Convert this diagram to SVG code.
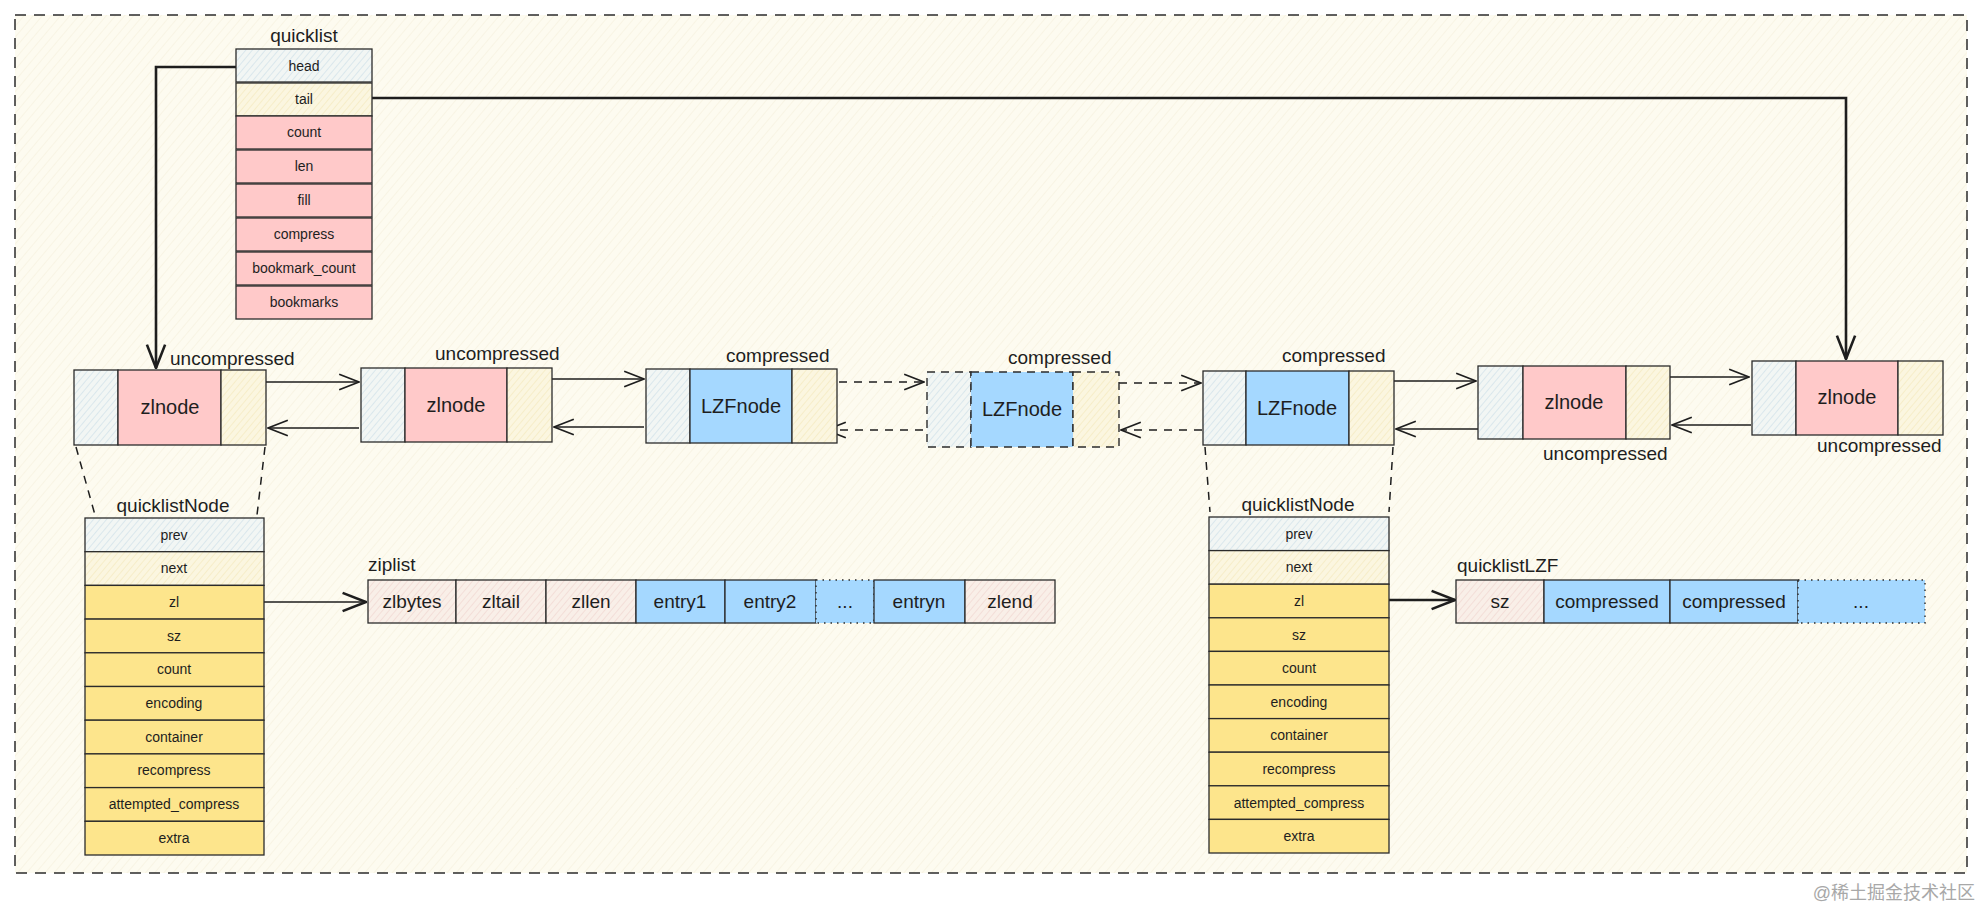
<svg xmlns="http://www.w3.org/2000/svg" width="1982" height="912" viewBox="0 0 1982 912">
<defs>
  <pattern id="hBg" width="7" height="7" patternUnits="userSpaceOnUse" patternTransform="rotate(40)">
    <rect width="7" height="7" fill="#fdfbf0"/>
    <line x1="0" y1="0" x2="0" y2="7" stroke="#f3eed8" stroke-width="1"/>
  </pattern>
  <pattern id="hBlue" width="5" height="5" patternUnits="userSpaceOnUse" patternTransform="rotate(40)">
    <rect width="5" height="5" fill="#f2f6f4"/>
    <line x1="0" y1="0" x2="0" y2="5" stroke="#bcd6e3" stroke-width="0.9"/>
  </pattern>
  <pattern id="hYel" width="5" height="5" patternUnits="userSpaceOnUse" patternTransform="rotate(40)">
    <rect width="5" height="5" fill="#fbf6e0"/>
    <line x1="0" y1="0" x2="0" y2="5" stroke="#efe2ae" stroke-width="0.9"/>
  </pattern>
  <pattern id="hPink" width="5" height="5" patternUnits="userSpaceOnUse" patternTransform="rotate(40)">
    <rect width="5" height="5" fill="#f9efe8"/>
    <line x1="0" y1="0" x2="0" y2="5" stroke="#ecc9c6" stroke-width="0.9"/>
  </pattern>
  <marker id="ah" viewBox="0 0 20 20" refX="19" refY="10" markerWidth="22" markerHeight="22" markerUnits="userSpaceOnUse" orient="auto">
    <path d="M1,3 L19,10 L1,17" fill="none" stroke="#1e1e1e" stroke-width="1.6"/>
  </marker>
  <marker id="ahB" viewBox="0 0 20 20" refX="19" refY="10" markerWidth="26" markerHeight="26" markerUnits="userSpaceOnUse" orient="auto">
    <path d="M1,3 L19,10 L1,17" fill="none" stroke="#1e1e1e" stroke-width="2"/>
  </marker>
</defs>
<style>
  .c { stroke:#2b2b2b; stroke-width:1.3; }
  .cd { stroke:#2b2b2b; stroke-width:1.4; stroke-dasharray:8 6; }
  .dot { stroke:#2b2b2b; stroke-width:1.4; stroke-dasharray:1.5 5; }
  .blue { fill:#a5d8ff; }
  .pink { fill:#ffc9c9; }
  .yel { fill:#fde58c; }
  .hb { fill:url(#hBlue); }
  .hy { fill:url(#hYel); }
  .hp { fill:url(#hPink); }
  text { font-family:"Liberation Sans", "Noto Sans", sans-serif; fill:#1e1e1e; }
  .f { font-size:14px; text-anchor:middle; }
  .n { font-size:20px; text-anchor:middle; }
  .lb { font-size:19px; }
  .ttl { font-size:19px; text-anchor:middle; }
  .z { font-size:19px; text-anchor:middle; }
  .ln { fill:none; stroke:#1e1e1e; stroke-width:1.5; }
  .lnd { fill:none; stroke:#1e1e1e; stroke-width:1.5; stroke-dasharray:8 7; }
  .thick { fill:none; stroke:#1e1e1e; stroke-width:2.6; }
</style>
<rect width="1982" height="912" fill="#ffffff"/>
<rect x="15" y="15" width="1952" height="858" fill="url(#hBg)" stroke="#2b2b2b" stroke-width="1.5" stroke-dasharray="11 8"/>

<g id="connectors">
  <path class="thick" d="M236,67 H156 V368" marker-end="url(#ahB)"/>
  <path class="thick" d="M372,98 H1846 V359" marker-end="url(#ahB)"/>
  <path class="ln" d="M266,382 H359" marker-end="url(#ah)"/>
  <path class="ln" d="M359,428 H268" marker-end="url(#ah)"/>
  <path class="ln" d="M552,379 H644" marker-end="url(#ah)"/>
  <path class="ln" d="M644,427 H554" marker-end="url(#ah)"/>
  <path class="lnd" d="M824,382 H924" marker-end="url(#ah)"/>
  <path class="lnd" d="M923,430 H826" marker-end="url(#ah)"/>
  <path class="lnd" d="M1119,383 H1201" marker-end="url(#ah)"/>
  <path class="lnd" d="M1202,430 H1121" marker-end="url(#ah)"/>
  <path class="ln" d="M1394,381 H1476" marker-end="url(#ah)"/>
  <path class="ln" d="M1478,429 H1396" marker-end="url(#ah)"/>
  <path class="ln" d="M1670,377 H1749" marker-end="url(#ah)"/>
  <path class="ln" d="M1751,425 H1672" marker-end="url(#ah)"/>
  <path class="lnd" d="M76,447 L95,515"/>
  <path class="lnd" d="M265,447 L257,515"/>
  <path class="lnd" d="M1205,447 L1210,512"/>
  <path class="lnd" d="M1393,447 L1389,512"/>
  <path class="ln" d="M264,602 H366" stroke-width="2" marker-end="url(#ahB)"/>
  <path class="thick" d="M1389,600 H1455" marker-end="url(#ahB)"/>
</g>

<g id="quicklist">
  <text class="ttl" x="304" y="42">quicklist</text>
  <rect class="c hb" x="236" y="49" width="136" height="33"/>
  <rect class="c hy" x="236" y="83" width="136" height="33"/>
  <rect class="c pink" x="236" y="116" width="136" height="33"/>
  <rect class="c pink" x="236" y="150" width="136" height="33"/>
  <rect class="c pink" x="236" y="184" width="136" height="33"/>
  <rect class="c pink" x="236" y="218" width="136" height="33"/>
  <rect class="c pink" x="236" y="252" width="136" height="33"/>
  <rect class="c pink" x="236" y="286" width="136" height="33"/>
  <text class="f" x="304" y="71">head</text>
  <text class="f" x="304" y="104">tail</text>
  <text class="f" x="304" y="137">count</text>
  <text class="f" x="304" y="171">len</text>
  <text class="f" x="304" y="205">fill</text>
  <text class="f" x="304" y="239">compress</text>
  <text class="f" x="304" y="273">bookmark_count</text>
  <text class="f" x="304" y="307">bookmarks</text>
</g>

<g id="node1">
  <rect class="c hb" x="74" y="370" width="44" height="75"/>
  <rect class="c pink" x="118" y="370" width="103" height="75"/>
  <rect class="c hy" x="221" y="370" width="45" height="75"/>
  <text class="n" x="170" y="414">zlnode</text>
  <text class="lb" x="170" y="365">uncompressed</text>
</g>
<g id="node2">
  <rect class="c hb" x="361" y="368" width="44" height="74"/>
  <rect class="c pink" x="405" y="368" width="102" height="74"/>
  <rect class="c hy" x="507" y="368" width="45" height="74"/>
  <text class="n" x="456" y="412">zlnode</text>
  <text class="lb" x="435" y="360">uncompressed</text>
</g>
<g id="node3">
  <rect class="c hb" x="646" y="369" width="44" height="74"/>
  <rect class="c blue" x="690" y="369" width="102" height="74"/>
  <rect class="c hy" x="792" y="369" width="45" height="74"/>
  <text class="n" x="741" y="413">LZFnode</text>
  <text class="lb" x="726" y="362">compressed</text>
</g>
<g id="node4">
  <rect class="cd hb" x="927" y="372" width="44" height="75"/>
  <rect class="cd blue" x="971" y="372" width="102" height="75"/>
  <rect class="cd hy" x="1073" y="372" width="46" height="75"/>
  <text class="n" x="1022" y="416">LZFnode</text>
  <text class="lb" x="1008" y="364">compressed</text>
</g>
<g id="node5">
  <rect class="c hb" x="1203" y="371" width="43" height="74"/>
  <rect class="c blue" x="1246" y="371" width="103" height="74"/>
  <rect class="c hy" x="1349" y="371" width="45" height="74"/>
  <text class="n" x="1297" y="415">LZFnode</text>
  <text class="lb" x="1282" y="362">compressed</text>
</g>
<g id="node6">
  <rect class="c hb" x="1478" y="366" width="45" height="73"/>
  <rect class="c pink" x="1523" y="366" width="103" height="73"/>
  <rect class="c hy" x="1626" y="366" width="44" height="73"/>
  <text class="n" x="1574" y="409">zlnode</text>
  <text class="lb" x="1543" y="460">uncompressed</text>
</g>
<g id="node7">
  <rect class="c hb" x="1752" y="361" width="44" height="74"/>
  <rect class="c pink" x="1796" y="361" width="102" height="74"/>
  <rect class="c hy" x="1898" y="361" width="45" height="74"/>
  <text class="n" x="1847" y="404">zlnode</text>
  <text class="lb" x="1817" y="452">uncompressed</text>
</g>

<g id="quicklistNode-left">
  <text class="ttl" x="173" y="512">quicklistNode</text>
  <rect class="c hb" x="85" y="518" width="179" height="33.7"/>
  <rect class="c hy" x="85" y="551.7" width="179" height="33.7"/>
  <rect class="c yel" x="85" y="585.4" width="179" height="33.7"/>
  <rect class="c yel" x="85" y="619.1" width="179" height="33.7"/>
  <rect class="c yel" x="85" y="652.8" width="179" height="33.7"/>
  <rect class="c yel" x="85" y="686.5" width="179" height="33.7"/>
  <rect class="c yel" x="85" y="720.2" width="179" height="33.7"/>
  <rect class="c yel" x="85" y="753.9" width="179" height="33.7"/>
  <rect class="c yel" x="85" y="787.6" width="179" height="33.7"/>
  <rect class="c yel" x="85" y="821.3" width="179" height="33.7"/>
  <text class="f" x="174" y="540">prev</text>
  <text class="f" x="174" y="573">next</text>
  <text class="f" x="174" y="607">zl</text>
  <text class="f" x="174" y="641">sz</text>
  <text class="f" x="174" y="674">count</text>
  <text class="f" x="174" y="708">encoding</text>
  <text class="f" x="174" y="742">container</text>
  <text class="f" x="174" y="775">recompress</text>
  <text class="f" x="174" y="809">attempted_compress</text>
  <text class="f" x="174" y="843">extra</text>
</g>

<g id="quicklistNode-right">
  <text class="ttl" x="1298" y="511">quicklistNode</text>
  <rect class="c hb" x="1209" y="517" width="180" height="33.6"/>
  <rect class="c hy" x="1209" y="550.6" width="180" height="33.6"/>
  <rect class="c yel" x="1209" y="584.2" width="180" height="33.6"/>
  <rect class="c yel" x="1209" y="617.8" width="180" height="33.6"/>
  <rect class="c yel" x="1209" y="651.4" width="180" height="33.6"/>
  <rect class="c yel" x="1209" y="685" width="180" height="33.6"/>
  <rect class="c yel" x="1209" y="718.6" width="180" height="33.6"/>
  <rect class="c yel" x="1209" y="752.2" width="180" height="33.6"/>
  <rect class="c yel" x="1209" y="785.8" width="180" height="33.6"/>
  <rect class="c yel" x="1209" y="819.4" width="180" height="33.6"/>
  <text class="f" x="1299" y="539">prev</text>
  <text class="f" x="1299" y="572">next</text>
  <text class="f" x="1299" y="606">zl</text>
  <text class="f" x="1299" y="640">sz</text>
  <text class="f" x="1299" y="673">count</text>
  <text class="f" x="1299" y="707">encoding</text>
  <text class="f" x="1299" y="740">container</text>
  <text class="f" x="1299" y="774">recompress</text>
  <text class="f" x="1299" y="808">attempted_compress</text>
  <text class="f" x="1299" y="841">extra</text>
</g>

<g id="ziplist">
  <text class="lb" x="368" y="571">ziplist</text>
  <rect class="c hp" x="368" y="580" width="88" height="43"/>
  <rect class="c hp" x="456" y="580" width="90" height="43"/>
  <rect class="c hp" x="546" y="580" width="90" height="43"/>
  <rect class="c blue" x="636" y="580" width="89" height="43"/>
  <rect class="c blue" x="725" y="580" width="91" height="43"/>
  <rect class="dot blue" x="816" y="580" width="58" height="43"/>
  <rect class="c blue" x="874" y="580" width="91" height="43"/>
  <rect class="c hp" x="965" y="580" width="90" height="43"/>
  <text class="z" x="412" y="608">zlbytes</text>
  <text class="z" x="501" y="608">zltail</text>
  <text class="z" x="591" y="608">zllen</text>
  <text class="z" x="680" y="608">entry1</text>
  <text class="z" x="770" y="608">entry2</text>
  <text class="z" x="845" y="608">...</text>
  <text class="z" x="919" y="608">entryn</text>
  <text class="z" x="1010" y="608">zlend</text>
</g>

<g id="quicklistLZF">
  <text class="lb" x="1457" y="572">quicklistLZF</text>
  <rect class="c hp" x="1456" y="580" width="88" height="43"/>
  <rect class="c blue" x="1544" y="580" width="126" height="43"/>
  <rect class="c blue" x="1670" y="580" width="128" height="43"/>
  <rect class="dot blue" x="1798" y="580" width="127" height="43"/>
  <text class="z" x="1500" y="608">sz</text>
  <text class="z" x="1607" y="608">compressed</text>
  <text class="z" x="1734" y="608">compressed</text>
  <text class="z" x="1861" y="608">...</text>
</g>

<text x="1975" y="899" font-size="18" text-anchor="end" style="fill:#a8a8a8; font-family:'Liberation Sans','Noto Sans CJK SC',sans-serif;">@稀土掘金技术社区</text>
</svg>
